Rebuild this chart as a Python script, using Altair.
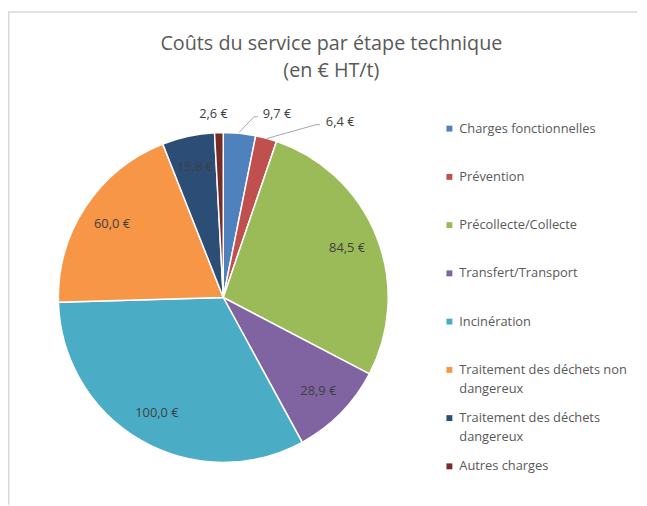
import altair as alt
import pandas as pd

categories = [
    "Charges fonctionnelles",
    "Prévention",
    "Précollecte/Collecte",
    "Transfert/Transport",
    "Incinération",
    "Traitement des déchets non\ndangereux",
    "Traitement des déchets\ndangereux",
    "Autres charges",
]
values = [9.7, 6.4, 84.5, 28.9, 100.0, 60.0, 15.8, 2.6]
colors = ["#4F81BD", "#C0504D", "#9BBB59", "#8064A2", "#4BACC6", "#F79646", "#2C4D75", "#772C2A"]
inside = [False, False, True, True, True, True, True, False]
title_lines = ["Coûts du service par étape technique", "(en € HT/t)"]

df = pd.DataFrame({"category": categories, "value": values, "idx": list(range(len(values))), "inside": inside})
title_df = pd.DataFrame({"t": ["\n".join(title_lines)]})

FONT = "Open Sans"
CX, CY, R = 218, 210, 167

base = alt.Chart(df).transform_stack(
    stack="value", groupby=[], as_=["v0", "v1"], sort=[alt.SortField("idx", order="ascending")]
).transform_calculate(
    mid="(datum.v0 + datum.v1) / 2",
    lab="replace(format(datum.value, '.1f'), '.', ',') + ' €'",
)

color_scale = alt.Scale(domain=categories, range=colors)
theta_scale = alt.Scale(domain=[0, sum(values)])

arcs = base.mark_arc(outerRadius=R, stroke="white", strokeWidth=1.5).encode(
    theta=alt.Theta("v0:Q", scale=theta_scale),
    theta2="v1:Q",
    color=alt.Color("category:N", scale=color_scale, legend=None),
    x=alt.value(CX),
    y=alt.value(CY),
)

inner_labels = base.transform_filter("datum.inside").mark_text(
    radius=135, font=FONT, fontSize=13, color="#404040"
).encode(
    theta=alt.Theta("mid:Q", scale=theta_scale),
    text="lab:N",
    x=alt.value(CX),
    y=alt.value(CY),
)

def outer(idx, dx, dy):
    return base.transform_filter(f"datum.idx == {idx}").mark_text(
        radius=186, font=FONT, fontSize=13, color="#404040", dx=dx, dy=dy
    ).encode(
        theta=alt.Theta("mid:Q", scale=theta_scale),
        text="lab:N",
        x=alt.value(CX),
        y=alt.value(CY),
    )

outer_labels = [outer(7, -5, 0), outer(0, 36, -1), outer(1, 70, 2)]

def seg(x1, y1, x2, y2):
    return alt.Chart(df.head(1)).mark_rule(color="#A6A6A6", strokeWidth=1).encode(
        x=alt.value(x1 - 8), y=alt.value(y1 - 88), x2=alt.value(x2 - 8), y2=alt.value(y2 - 88)
    )

leaders = [
    seg(242, 131, 257, 115), seg(257, 115, 261, 115),
    seg(270, 137, 320, 123), seg(320, 123, 324, 123),
]

frame = [
    alt.Chart(df.head(1)).mark_rule(color="#D9D9D9", strokeWidth=1.5).encode(
        x=alt.value(0), x2=alt.value(637), y=alt.value(-79)
    ),
    alt.Chart(df.head(1)).mark_rule(color="#D9D9D9", strokeWidth=1.5).encode(
        x=alt.value(0.75), y=alt.value(-79), y2=alt.value(420)
    ),
]

title = alt.Chart(title_df).mark_text(
    align="center", baseline="alphabetic", lineBreak="\n", lineHeight=28,
    font=FONT, fontSize=20, color="#595959"
).encode(
    x=alt.value(327.5), y=alt.value(-41), text="t:N"
)

leg_y = alt.Y("category:N", scale=alt.Scale(domain=categories, range=[39, 381], type="point", padding=0), axis=None)
leg_sym = alt.Chart(df).mark_square(size=36, opacity=1).encode(
    x=alt.value(447),
    y=leg_y,
    color=alt.Color("category:N", scale=color_scale, legend=None),
)
leg_txt = alt.Chart(df).mark_text(
    align="left", baseline="alphabetic", dy=4, lineBreak="\n", lineHeight=19,
    font=FONT, fontSize=13, color="#595959"
).encode(
    x=alt.value(457),
    y=leg_y,
    text="category:N",
)

chart = alt.layer(
    *frame, title, arcs, inner_labels, *outer_labels, *leaders, leg_sym, leg_txt
).properties(
    width=639, height=418,
    padding={"left": 0, "top": 80, "right": 0, "bottom": 0},
    autosize=alt.AutoSizeParams(type="none"),
).configure_view(stroke=None)

chart.save("out.html", embed_options={"renderer": "svg", "actions": False})
